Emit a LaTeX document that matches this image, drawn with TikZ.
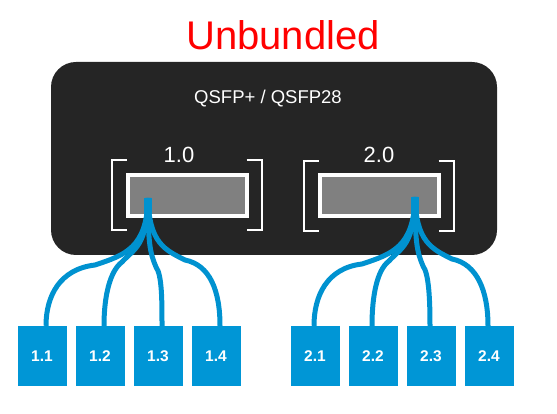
\documentclass[tikz,border=0pt]{standalone}
\usepackage{fontspec}
\setmainfont{Liberation Sans}
\usepackage{xcolor}
\definecolor{cableblue}{RGB}{0,146,208}
\definecolor{boxblue}{RGB}{0,150,214}
\definecolor{cagegray}{RGB}{37,37,37}
\definecolor{slotgray}{RGB}{128,128,128}
\usetikzlibrary{calc}

\tikzset{
  housing/.style={fill=cagegray, rounded corners=25pt, minimum width=446pt,
        minimum height=193pt, inner sep=0pt},
  portslot/.style={draw=white, line width=4pt, fill=slotgray, minimum width=119pt,
        minimum height=41pt, inner sep=0pt},
  bracket/.style={draw=white, line width=2pt},
  subport/.style={fill=boxblue, minimum width=49pt, minimum height=60pt, inner sep=0pt,
        text=white, font=\fontsize{15.5}{15.5}\selectfont\bfseries},
  cable/.style={draw=cableblue, line width=5pt},
}

\begin{document}
\begin{tikzpicture}[x=1pt, y=-1pt]
\useasboundingbox (0,0) rectangle (557,414);

% Title
\node[text=red, font=\fontsize{40}{40}\selectfont] (title) at (283,35) {Unbundled};

% Transceiver cage
\node[housing] (cage) at (274,158.5) {};
\node[text=white, font=\fontsize{18.5}{18.5}\selectfont] (cagelabel) at (268,99) {QSFP+ / QSFP28};

% Ports with brackets
\node[portslot] (p1) at (187.5,195.5) {};
\node[portslot] (p2) at (379.5,196) {};
\node[text=white, font=\fontsize{22}{22}\selectfont] (p1label) at (179,155) {1.0};
\node[text=white, font=\fontsize{22}{22}\selectfont] (p2label) at (379,155) {2.0};
\foreach \p in {1,2}{
  \draw[bracket] ($(p\p.center)+(-61,-35)$) -- ++(-15,0) -- ++(0,70) -- ++(15,0);
  \draw[bracket] ($(p\p.center)+(59,-35)$) -- ++(15,0) -- ++(0,70) -- ++(-15,0);
}

% Cable exits
\coordinate (s1) at (148,198);
\coordinate (s2) at (415,197);

% Breakout lanes
\foreach \k/\x in {1/42,2/100,3/158,4/216}
  \node[subport] (b1\k) at (\x,356) {1.\k};
\foreach \k/\x in {1/315,2/373,3/431,4/489}
  \node[subport] (b2\k) at (\x,356) {2.\k};

% Fan-out cables
\foreach \p/\dx in {1/4,2/-1}{
  \draw[cable, line width=8pt] (s\p) -- ++(0,16);
  \foreach \k/\mx/\my/\ax/\ay/\bx/\by/\cx/\cy/\ey in {
      1/-53/67/-1/50/30/-10/-35/4/-30,
      2/-26/64/-1/48/13/-14/-12/9/-30,
      3/8/69/0/45/-6/-14/6/8/-25,
      4/37/62/1/45/-20/-10/25/5/-35}
    \draw[cable] (s\p) .. controls +(\ax,\ay) and +(\bx,\by) .. ($(s\p)+(\mx,\my)$)
      .. controls +(\cx,\cy) and +(0,\ey) .. ($(b\p\k.north)+(\dx,0)$);
}

\end{tikzpicture}
\end{document}
